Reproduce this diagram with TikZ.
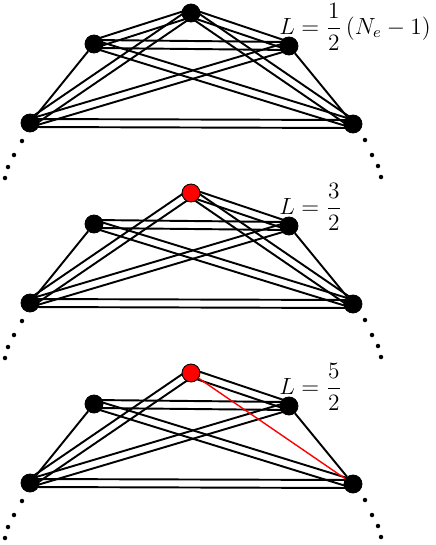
\documentclass[tikz,border=0pt]{standalone}
\usepackage{amsmath}
\usetikzlibrary{calc,backgrounds}
\tikzset{vtx/.style={circle,draw=black,fill=black,inner sep=0pt,minimum size=0.36cm,line width=0.5pt},
  edge/.style={line width=1.1pt},
  redge/.style={red,line width=0.8pt},
  lab/.style={anchor=base west,inner sep=0pt,font=\large,scale=1.11,transform shape}}
\newcommand\dbl[2]{\draw[edge] ($(#1)!0.08cm!90:(#2)$)--($(#2)!0.08cm!-90:(#1)$);
  \draw[edge] ($(#1)!0.08cm!-90:(#2)$)--($(#2)!0.08cm!90:(#1)$);}

\begin{document}
\begin{tikzpicture}[x=0.02cm,y=-0.02cm]
\useasboundingbox (0,0) rectangle (436,545);
\foreach \p/\y/\c in {1/0/black,2/180/red,3/360/red}{
  \node[vtx,fill=\c] (t\p) at (191,13+\y) {};
  \node[vtx] (ul\p) at (94,44+\y) {};
  \node[vtx] (ur\p) at (289,46+\y) {};
  \node[vtx] (ll\p) at (30,123+\y) {};
  \node[vtx] (lr\p) at (353,124+\y) {};
  \foreach \dx/\dy in {-8/18,-16/32,-22/44,-25/55} \fill ($(ll\p)+(\dx,\dy)$) circle(0.045cm);
  \foreach \dx/\dy in {12/16,19/31,25/42,28/53} \fill ($(lr\p)+(\dx,\dy)$) circle(0.045cm);
}
\node[lab] (l1) at (279,34) {$L=\dfrac{1}{2}\,(N_e-1)$};
\node[lab] (l2) at (279,214) {$L=\dfrac{3}{2}$};
\node[lab] (l3) at (279,394) {$L=\dfrac{5}{2}$};
\begin{scope}[on background layer]
\foreach \a/\b in {t/ul,t/ur,t/ll,t/lr,ul/ur,ul/lr,ur/ll,ll/lr} {\dbl{\a1}{\b1}}
\foreach \a/\b in {t/ur,t/ll,t/lr,ul/ur,ul/lr,ur/ll,ll/lr} {\dbl{\a2}{\b2}}
\foreach \a/\b in {t/ur,t/ll,ul/ur,ul/lr,ur/ll,ll/lr} {\dbl{\a3}{\b3}}
\foreach \p in {1,2,3}{\draw[edge] (ul\p)--(ll\p); \draw[edge] (ur\p)--(lr\p);}
\draw[redge] (t3)--(lr3);
\end{scope}
\end{tikzpicture}
\end{document}
